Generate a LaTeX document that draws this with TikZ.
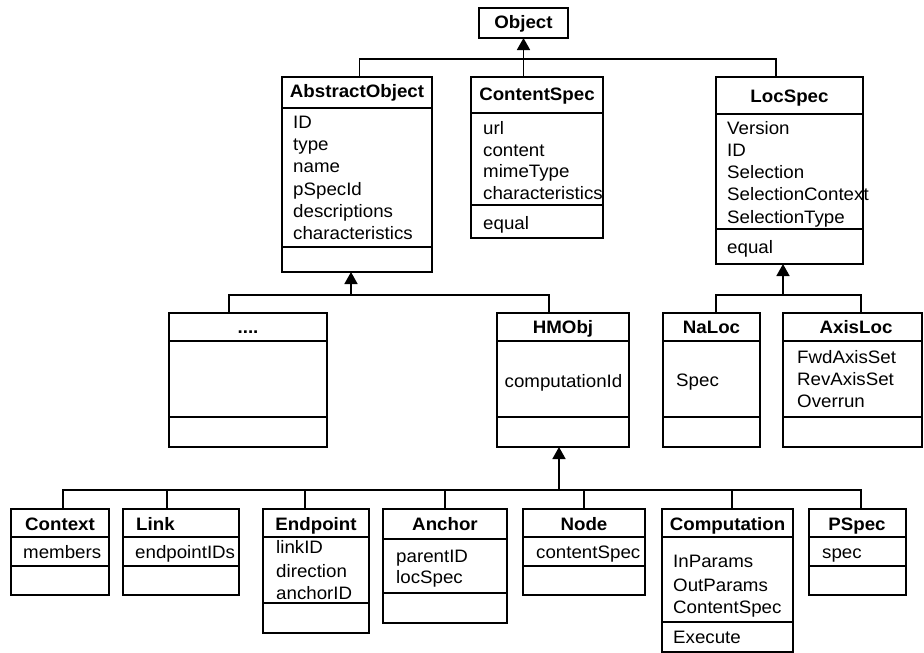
\documentclass[tikz,border=0pt]{standalone}
\usepackage{fontspec}
\setmainfont{Liberation Sans}[FakeStretch=1.04]
\usetikzlibrary{arrows.meta}
\tikzset{
  cls/.style={draw, line width=1.6pt, inner sep=0pt, outer sep=0pt, fill=white},
  sep/.style={line width=1.6pt},
  conn/.style={line width=1.6pt},
  inh/.style={line width=1.6pt, -{Triangle[width=13pt,length=12pt]}},
  ttl/.style={anchor=base, inner sep=0pt, font=\fontsize{18}{21}\selectfont\bfseries},
  ttlw/.style={anchor=base west, inner sep=0pt, font=\fontsize{18}{21}\selectfont\bfseries},
  attr/.style={anchor=base west, inner sep=0pt, font=\fontsize{18}{21}\selectfont},
  attrc/.style={anchor=base, inner sep=0pt, font=\fontsize{18}{21}\selectfont},
}
% #1 name, #2 x1, #3 y1, #4 x2, #5 y2, #6 header bottom, #7 attributes bottom
\newcommand\uclass[7]{%
  \node[cls, minimum width={(#4-#2)*1pt}, minimum height={(#5-#3)*1pt}] (#1) at ({(#2+#4)/2},{(#3+#5)/2}) {};
  \draw[sep] (#2,#6) -- (#4,#6);
  \draw[sep] (#2,#7) -- (#4,#7);
}
\begin{document}
\begin{tikzpicture}[x=1pt,y=-1pt]
\useasboundingbox (0,0) rectangle (924,653);

% Object
\node[cls, minimum width=89pt, minimum height=30pt] (obj) at (523.5,23) {};
\node[ttl] (obj-t) at (523.5,28) {Object};

% AbstractObject
\uclass{ao}{282}{77}{432}{272}{108}{247}
\node[ttl] (ao-t) at (357,97) {AbstractObject};
\node[attr] (ao-1) at (293,128) {ID};
\node[attr] (ao-2) at (293,150) {type};
\node[attr] (ao-3) at (293,172) {name};
\node[attr] (ao-4) at (293,195) {pSpecId};
\node[attr] (ao-5) at (293,217) {descriptions};
\node[attr] (ao-6) at (293,239) {characteristics};

% ContentSpec
\uclass{cs}{471}{77}{603}{238}{113}{205}
\node[ttl] (cs-t) at (537,100) {ContentSpec};
\node[attr] (cs-1) at (483,134) {url};
\node[attr] (cs-2) at (483,156) {content};
\node[attr] (cs-3) at (483,177) {mimeType};
\node[attr] (cs-4) at (483,199) {characteristics};
\node[attr] (cs-m) at (483,229) {equal};

% LocSpec
\uclass{ls}{716}{77}{863}{264}{114}{229}
\node[ttl] (ls-t) at (789.5,102) {LocSpec};
\node[attr] (ls-1) at (727,134) {Version};
\node[attr] (ls-2) at (727,156) {ID};
\node[attr] (ls-3) at (727,178) {Selection};
\node[attr] (ls-4) at (727,200) {SelectionContext};
\node[attr] (ls-5) at (727,223) {SelectionType};
\node[attr] (ls-m) at (727,253) {equal};

% ....
\uclass{dt}{169}{313}{327}{447}{341}{417}
\node[ttl] (dt-t) at (248,333) {....};

% HMObj
\uclass{hm}{497}{313}{629}{447}{341}{417}
\node[ttl] (hm-t) at (563,333) {HMObj};
\node[attrc] (hm-1) at (563.5,387) {computationId};

% NaLoc
\uclass{na}{663}{313}{760}{447}{341}{417}
\node[ttl] (na-t) at (711.5,333) {NaLoc};
\node[attr] (na-1) at (676,386) {Spec};

% AxisLoc
\uclass{ax}{783}{313}{922}{447}{341}{417}
\node[ttl] (ax-t) at (856,333) {AxisLoc};
\node[attr] (ax-1) at (797,363) {FwdAxisSet};
\node[attr] (ax-2) at (797,385) {RevAxisSet};
\node[attr] (ax-3) at (797,407) {Overrun};

% Context
\uclass{cx}{11}{509}{109}{595}{537}{566}
\node[ttl] (cx-t) at (60,530) {Context};
\node[attr] (cx-1) at (23,558) {members};

% Link
\uclass{lk}{123}{509}{239}{595}{537}{566}
\node[ttlw] (lk-t) at (136,530) {Link};
\node[attr] (lk-1) at (135,558) {endpointIDs};

% Endpoint
\uclass{ep}{263}{509}{369}{633}{537}{603}
\node[ttl] (ep-t) at (316,530) {Endpoint};
\node[attr] (ep-1) at (276,553) {linkID};
\node[attr] (ep-2) at (276,577) {direction};
\node[attr] (ep-3) at (276,599) {anchorID};

% Anchor
\uclass{an}{383}{509}{507}{623}{539}{593}
\node[ttl] (an-t) at (445,530) {Anchor};
\node[attr] (an-1) at (396,562) {parentID};
\node[attr] (an-2) at (396,583) {locSpec};

% Node
\uclass{nd}{523}{509}{645}{595}{537}{566}
\node[ttl] (nd-t) at (584,530) {Node};
\node[attr] (nd-1) at (536,558) {contentSpec};

% Computation
\uclass{cp}{662}{509}{793}{652}{537}{622}
\node[ttl] (cp-t) at (727.5,530) {Computation};
\node[attr] (cp-1) at (673,567) {InParams};
\node[attr] (cp-2) at (673,591) {OutParams};
\node[attr] (cp-3) at (673,613) {ContentSpec};
\node[attr] (cp-m) at (673,643) {Execute};

% PSpec
\uclass{ps}{809}{509}{906}{595}{537}{566}
\node[ttl] (ps-t) at (857,530) {PSpec};
\node[attr] (ps-1) at (822,558) {spec};

% ---- connectors ----
% top level
\coordinate (j1) at (523,59);
\draw[conn] ([xshift=2.5pt]ao.north) |- (j1) -| ([xshift=-13.5pt]ls.north);
\draw[inh] (obj.south |- cs.north) -- (obj.south);

% AbstractObject subclasses
\coordinate (j2) at (351,295);
\draw[conn] ([xshift=-19pt]dt.north) |- (j2) -| ([xshift=-14pt]hm.north);
\draw[inh] (j2) -- (j2 |- ao.south);

% LocSpec subclasses
\coordinate (j3) at (783,295);
\draw[conn] ([xshift=4.5pt]na.north) |- (j3) -| ([xshift=8.5pt]ax.north);
\draw[inh] (j3) -- (j3 |- ls.south);

% HMObj subclasses
\coordinate (j4) at (559,490);
\draw[conn] ([xshift=3pt]cx.north) |- (j4) -| ([xshift=3.5pt]ps.north);
\draw[conn] ([xshift=-14pt]lk.north) -- ([xshift=-14pt]lk.north |- j4);
\draw[conn] ([xshift=-11pt]ep.north) -- ([xshift=-11pt]ep.north |- j4);
\draw[conn] (an.north) -- (an.north |- j4);
\draw[conn] (nd.north) -- (nd.north |- j4);
\draw[conn] ([xshift=4.5pt]cp.north) -- ([xshift=4.5pt]cp.north |- j4);
\draw[inh] (j4) -- (j4 |- hm.south);
\end{tikzpicture}
\end{document}
